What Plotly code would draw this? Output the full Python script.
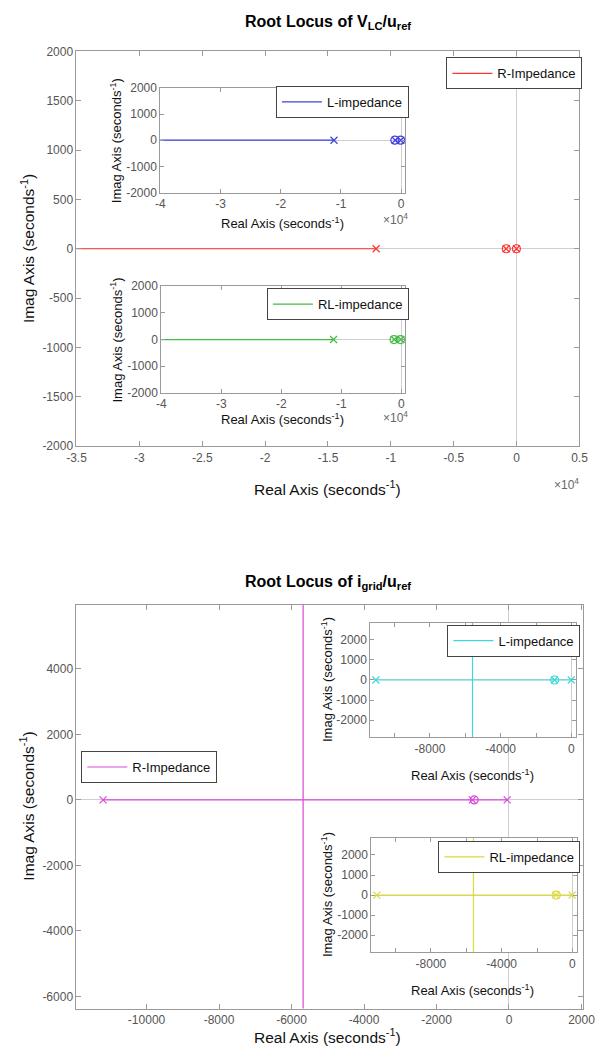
import plotly.graph_objects as go

W, H = 604, 1059

# ---------------- data: top chart  (V_LC / u_ref) ----------------
vlc_R_poles = [-11170, -830, -5]
vlc_R_zeros = [-820, -15]
vlc_L_poles = [-11160, -1000, -60]
vlc_L_zeros = [-1060, -100]
vlc_RL_poles = [-11280, -1150, -60]
vlc_RL_zeros = [-1200, -120]

# ---------------- data: bottom chart (i_grid / u_ref) ----------------
ig_R_poles = [-11200, -1010, -50]
ig_R_zeros = [-960]
ig_R_break = -5680
ig_L_poles = [-11060, -960, -10]
ig_L_zeros = [-950]
ig_L_break = -5595
ig_RL_poles = [-11060, -930, -10]
ig_RL_zeros = [-910]
ig_RL_break = -5595

FAR = 1.0e6  # branches run off to infinity

# tick labels
top_main_xt = [-35000, -30000, -25000, -20000, -15000, -10000, -5000, 0, 5000]
top_main_xl = ["-3.5", "-3", "-2.5", "-2", "-1.5", "-1", "-0.5", "0", "0.5"]
top_main_yt = [-2000, -1500, -1000, -500, 0, 500, 1000, 1500, 2000]
top_ins_xt = [-40000, -30000, -20000, -10000, 0]
top_ins_xl = ["-4", "-3", "-2", "-1", "0"]
top_ins_yt = [-2000, -1000, 0, 1000, 2000]
bot_main_xt = [-10000, -8000, -6000, -4000, -2000, 0, 2000]
bot_main_yt = [-6000, -4000, -2000, 0, 2000, 4000]
bot_ins_xt = [-10000, -8000, -6000, -4000, -2000, 0]
bot_ins_xl = ["", "-8000", "", "-4000", "", "0"]
bot_ins_yt = [-2000, -1000, 0, 1000, 2000]

FONT = "Liberation Sans, Arial, sans-serif"
AXC = "#9a9a9a"
TICKC = "#555555"
ZC = "#cfcfcf"

def px(x):
    return x / W

def py(y):
    return 1 - y / H

def lbl(v):
    return [str(t) for t in v]

fig = go.Figure()

def axis(x0, x1, rng, tv, tt, anchor, ticklen=5):
    return dict(domain=[x0, x1], range=rng, tickmode="array", tickvals=tv, ticktext=tt,
                ticks="inside", ticklen=ticklen, tickcolor=AXC, showline=True, linecolor=AXC,
                linewidth=1, mirror="ticks", showgrid=False, zeroline=True, zerolinecolor=ZC,
                zerolinewidth=1, tickfont=dict(size=12, color=TICKC, family=FONT),
                anchor=anchor, fixedrange=True)

# domains (pixel boxes)
boxes = {
    1: (69, 591, 45, 445),
    2: (156, 410, 82, 188),
    3: (157, 410, 283, 391),
    4: (69, 595, 606, 1015),
    5: (374, 587, 624, 740),
    6: (375, 588, 842, 958),
}
ranges = {
    1: ([-35000, 5000], [-2000, 2000]),
    2: ([-40000, 640], [-2000, 2000]),
    3: ([-40000, 640], [-2000, 2000]),
    4: ([-11933, 2051], [-6370, 5950]),
    5: ([-11370, 237], [-2850, 2850]),
    6: ([-11370, 237], [-2850, 2850]),
}
xticks = {1: (top_main_xt, top_main_xl), 2: (top_ins_xt, top_ins_xl), 3: (top_ins_xt, top_ins_xl),
          4: (bot_main_xt, lbl(bot_main_xt)), 5: (bot_ins_xt, bot_ins_xl), 6: (bot_ins_xt, bot_ins_xl)}
yticks = {1: top_main_yt, 2: top_ins_yt, 3: top_ins_yt, 4: bot_main_yt, 5: bot_ins_yt, 6: bot_ins_yt}

layout_axes = {}
for k in range(1, 7):
    x0, x1, y0, y1 = boxes[k]
    suf = "" if k == 1 else str(k)
    tl = 5 if k in (1, 4) else 4
    layout_axes["xaxis" + suf] = axis(px(x0), px(x1), ranges[k][0], xticks[k][0], xticks[k][1], "y" + suf, tl)
    layout_axes["yaxis" + suf] = axis(py(y1), py(y0), ranges[k][1], yticks[k], lbl(yticks[k]), "x" + suf, tl)

def add_locus(k, color, name, poles, zeros, real_segs, vert=None, legend="legend"):
    suf = "" if k == 1 else str(k)
    xs, ys = [], []
    for a, b in real_segs:
        xs += [a, b, None]
        ys += [0, 0, None]
    if vert is not None:
        xs += [vert, vert, None]
        ys += [-FAR, FAR, None]
    fig.add_trace(go.Scatter(x=xs, y=ys, mode="lines", line=dict(color=color, width=1.2),
                             name=name, legend=legend, xaxis="x" + suf, yaxis="y" + suf,
                             hoverinfo="skip"))
    fig.add_trace(go.Scatter(x=poles, y=[0] * len(poles), mode="markers",
                             marker=dict(symbol="x-thin-open", size=7, color=color,
                                         line=dict(color=color, width=1.2)),
                             showlegend=False, xaxis="x" + suf, yaxis="y" + suf))
    fig.add_trace(go.Scatter(x=zeros, y=[0] * len(zeros), mode="markers",
                             marker=dict(symbol="circle-open", size=8, color=color,
                                         line=dict(color=color, width=1.2)),
                             showlegend=False, xaxis="x" + suf, yaxis="y" + suf))

RED, BLUE, GREEN = "#ff3333", "#4040dd", "#44bb44"
CYAN, MAG, YEL = "#3fd8d8", "#d94ad9", "#dada3a"

add_locus(1, RED, "R-Impedance", vlc_R_poles, vlc_R_zeros,
          [(vlc_R_poles[0], -FAR)], legend="legend")
add_locus(2, BLUE, "L-impedance", vlc_L_poles, vlc_L_zeros,
          [(vlc_L_poles[0], -FAR)], legend="legend2")
add_locus(3, GREEN, "RL-impedance", vlc_RL_poles, vlc_RL_zeros,
          [(vlc_RL_poles[0], -FAR)], legend="legend3")
add_locus(4, MAG, "R-Impedance", ig_R_poles, ig_R_zeros,
          [(ig_R_poles[0], ig_R_poles[-1])], vert=ig_R_break, legend="legend4")
add_locus(5, CYAN, "L-impedance", ig_L_poles, ig_L_zeros,
          [(ig_L_poles[0], ig_L_poles[-1])], vert=ig_L_break, legend="legend5")
add_locus(6, YEL, "RL-impedance", ig_RL_poles, ig_RL_zeros,
          [(ig_RL_poles[0], ig_RL_poles[-1])], vert=ig_RL_break, legend="legend6")

def legend_at(xr, yt, size=13):
    return dict(x=px(xr), y=py(yt), xanchor="right", yanchor="top", bgcolor="white",
                bordercolor="#444444", borderwidth=1, font=dict(size=size, color="#111", family=FONT),
                itemwidth=40, tracegroupgap=0)

legends = dict(
    legend=legend_at(594, 51),
    legend2=legend_at(414, 80),
    legend3=legend_at(414, 285),
    legend4=dict(legend_at(218, 754), x=px(74), xanchor="left"),
    legend5=legend_at(592, 626),
    legend6=legend_at(592, 845),
)

ann = []
def text(x, y, s, size=13, color="#111", angle=0, xanchor="center", yanchor="middle"):
    ann.append(dict(x=px(x), y=py(y), xref="paper", yref="paper", text=s, showarrow=False,
                    font=dict(size=size, color=color, family=FONT), textangle=angle,
                    xanchor=xanchor, yanchor=yanchor))

RA = "Real Axis (seconds<sup>-1</sup>)"
IA = "Imag Axis (seconds<sup>-1</sup>)"
text(330, 16, "<b>Root Locus of V<sub>LC</sub>/u<sub>ref</sub></b>", size=16, color="#000")
text(330, 583, "<b>Root Locus of i<sub>grid</sub>/u<sub>ref</sub></b>", size=16, color="#000")
# top main
text(18, 245, IA, size=15.5, angle=-90)
text(330, 487, RA, size=15.5)
text(578, 483, "×10<sup>4</sup>", size=12, color="#666")
# top insets
text(110, 135, IA, size=13, angle=-90)
text(283, 219, RA, size=13)
text(400, 215, "×10<sup>4</sup>", size=12, color="#666")
text(110, 337, IA, size=13, angle=-90)
text(283, 418, RA, size=13)
text(400, 415, "×10<sup>4</sup>", size=12, color="#666")
# bottom main
text(18, 810, IA, size=15.5, angle=-90)
text(330, 1043, RA, size=15.5)
# bottom insets
text(329, 682, IA, size=13, angle=-90)
text(480, 778, RA, size=13)
text(329, 900, IA, size=13, angle=-90)
text(480, 996, RA, size=13)

fig.update_layout(width=W, height=H, margin=dict(l=0, r=0, t=0, b=0),
                  paper_bgcolor="white", plot_bgcolor="white",
                  font=dict(family=FONT), annotations=ann, **layout_axes, **legends,
                  hovermode=False)

fig.write_html("out.html", config={"displayModeBar": False})
